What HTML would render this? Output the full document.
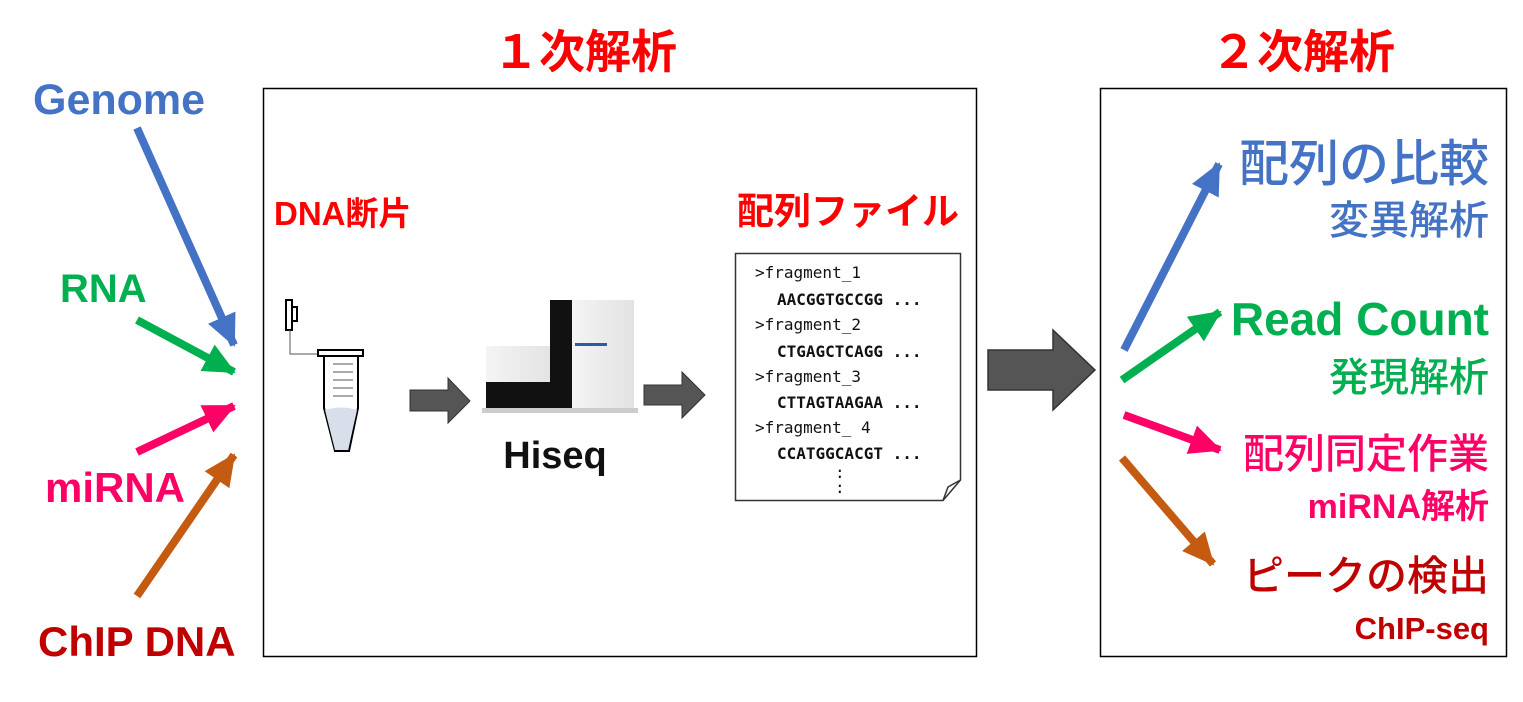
<!DOCTYPE html>
<html><head><meta charset="utf-8">
<style>
html,body{margin:0;padding:0;background:#fff;}
svg{display:block;}
text{font-family:"Liberation Sans","Noto Sans CJK JP",sans-serif;}
.b{font-weight:bold;}
.m{font-family:"DejaVu Sans Mono","Liberation Mono",monospace;font-size:16px;fill:#111;}
</style></head><body>
<svg width="1523" height="702" viewBox="0 0 1523 702" xmlns="http://www.w3.org/2000/svg">
<defs>
<marker id="ab" markerUnits="userSpaceOnUse" markerWidth="40" markerHeight="40" refX="30" refY="15" orient="auto"><polygon points="0,0 32,15 0,30" fill="#4472C4"/></marker>
<marker id="ag" markerUnits="userSpaceOnUse" markerWidth="40" markerHeight="40" refX="30" refY="15" orient="auto"><polygon points="0,0 32,15 0,30" fill="#00B050"/></marker>
<marker id="ap" markerUnits="userSpaceOnUse" markerWidth="40" markerHeight="40" refX="30" refY="15" orient="auto"><polygon points="0,0 32,15 0,30" fill="#FF0066"/></marker>
<marker id="ao" markerUnits="userSpaceOnUse" markerWidth="40" markerHeight="40" refX="30" refY="15" orient="auto"><polygon points="0,0 32,15 0,30" fill="#C55A11"/></marker>
<linearGradient id="mg" x1="0" x2="1"><stop offset="0" stop-color="#f4f4f4"/><stop offset="1" stop-color="#e2e2e2"/></linearGradient>
</defs>

<text x="585" y="68" font-size="46" fill="#FF0000" class="b" text-anchor="middle">１次解析</text>
<text x="1303" y="68" font-size="46" fill="#FF0000" class="b" text-anchor="middle">２次解析</text>

<text x="33" y="114" font-size="43" fill="#4472C4" class="b">Genome</text>
<text x="60" y="302" font-size="40" fill="#00B050" class="b">RNA</text>
<text x="45" y="502" font-size="42" fill="#FF0066" class="b">miRNA</text>
<text x="38" y="656" font-size="42" fill="#C00000" class="b">ChIP DNA</text>

<line x1="137" y1="128" x2="234" y2="345" stroke="#4472C4" stroke-width="8" marker-end="url(#ab)"/>
<line x1="137" y1="320" x2="234" y2="372" stroke="#00B050" stroke-width="8" marker-end="url(#ag)"/>
<line x1="137" y1="452" x2="234" y2="406" stroke="#FF0066" stroke-width="8" marker-end="url(#ap)"/>
<line x1="137" y1="596" x2="234" y2="455" stroke="#C55A11" stroke-width="8" marker-end="url(#ao)"/>

<rect x="263.5" y="88.5" width="713" height="568" fill="none" stroke="#000" stroke-width="1.5"/>
<rect x="1100.5" y="88.5" width="406" height="568" fill="none" stroke="#000" stroke-width="1.5"/>

<text x="274" y="225" font-size="33" fill="#FF0000" class="b">DNA断片</text>
<text x="737" y="224" font-size="37" fill="#FF0000" class="b">配列ファイル</text>

<rect x="286" y="300" width="6" height="30" fill="#fff" stroke="#000" stroke-width="2"/>
<rect x="292" y="307" width="5" height="14" fill="#fff" stroke="#000" stroke-width="2"/>
<polyline points="290,330 290,354 320,354" fill="none" stroke="#555" stroke-width="1"/>
<rect x="318" y="350" width="45" height="6" fill="#fff" stroke="#000" stroke-width="2"/>
<path d="M324,356 L324,408 L335,451 L349,451 L358,408 L358,356 Z" fill="#fff" stroke="#000" stroke-width="2"/>
<path d="M325,410 Q341,405 357,410 L348,450 L335,450 Z" fill="#d8deea"/>
<g stroke="#555" stroke-width="1"><line x1="333" y1="364" x2="353" y2="364"/><line x1="333" y1="372" x2="353" y2="372"/><line x1="333" y1="380" x2="353" y2="380"/><line x1="333" y1="388" x2="353" y2="388"/><line x1="333" y1="396" x2="353" y2="396"/></g>

<polygon points="410,390 448,390 448,378 470,401 448,423 448,411 410,411" fill="#555" stroke="#333"/>
<polygon points="644,385 682,385 682,372 705,395 682,418 682,405 644,405" fill="#555" stroke="#333"/>

<rect x="486" y="346" width="70" height="62" fill="url(#mg)"/>
<rect x="486" y="382" width="70" height="26" fill="#111"/>
<rect x="550" y="300" width="22" height="108" fill="#111"/>
<rect x="572" y="300" width="62" height="108" fill="url(#mg)"/>
<rect x="575" y="343" width="32" height="3" fill="#2a5aa8"/>
<rect x="482" y="408" width="156" height="5" fill="#ccc"/>
<text x="555" y="468" font-size="38" fill="#111" class="b" text-anchor="middle">Hiseq</text>

<path d="M735.5,253.5 L960.5,253.5 L960.5,480 L943,500.5 L735.5,500.5 Z" fill="#fff" stroke="#333" stroke-width="1.5"/>
<path d="M943,500.5 L948,487 L960.5,480" fill="none" stroke="#333" stroke-width="1.5"/>
<text x="755" y="278" class="m">&gt;fragment_1</text>
<text x="777" y="305" class="m b">AACGGTGCCGG ...</text>
<text x="755" y="330" class="m">&gt;fragment_2</text>
<text x="777" y="357" class="m b">CTGAGCTCAGG ...</text>
<text x="755" y="382" class="m">&gt;fragment_3</text>
<text x="777" y="408" class="m b">CTTAGTAAGAA ...</text>
<text x="755" y="433" class="m">&gt;fragment_ 4</text>
<text x="777" y="459" class="m b">CCATGGCACGT ...</text>
<text x="835" y="478" class="m">:</text>
<text x="835" y="493" class="m">:</text>

<polygon points="988,350 1053,350 1053,330 1095,370 1053,410 1053,390 988,390" fill="#555" stroke="#333" stroke-width="1.5"/>

<line x1="1124" y1="350" x2="1219" y2="164" stroke="#4472C4" stroke-width="8" marker-end="url(#ab)"/>
<line x1="1122" y1="380" x2="1220" y2="312" stroke="#00B050" stroke-width="8" marker-end="url(#ag)"/>
<line x1="1124" y1="415" x2="1220" y2="450" stroke="#FF0066" stroke-width="8" marker-end="url(#ap)"/>
<line x1="1122" y1="458" x2="1213" y2="564" stroke="#C55A11" stroke-width="8" marker-end="url(#ao)"/>

<g text-anchor="end">
<text x="1489" y="181" font-size="50" fill="#4472C4" font-weight="500">配列の比較</text>
<text x="1489" y="234" font-size="40" fill="#4472C4" font-weight="500">変異解析</text>
<text x="1489" y="335" font-size="46" fill="#00B050" class="b">Read Count</text>
<text x="1489" y="391" font-size="40" fill="#00B050" font-weight="500">発現解析</text>
<text x="1489" y="468" font-size="41" fill="#FF0066" font-weight="500">配列同定作業</text>
<text x="1489" y="518" font-size="34" fill="#FF0066" class="b">miRNA解析</text>
<text x="1489" y="590" font-size="41" fill="#C00000" font-weight="500">ピークの検出</text>
<text x="1489" y="639" font-size="31" fill="#C00000" class="b">ChIP-seq</text>
</g>
</svg>
</body></html>
